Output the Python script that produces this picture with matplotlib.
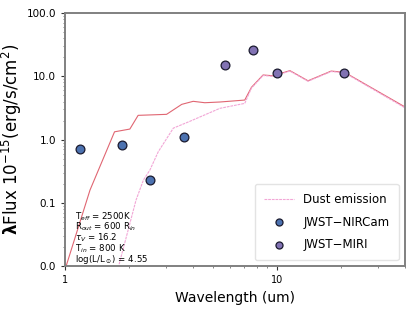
import matplotlib
matplotlib.use("Agg")
import matplotlib.pyplot as plt
from matplotlib.ticker import FixedLocator, FixedFormatter, LogLocator, NullFormatter

# Model curves
model_wave = [1.0, 1.31, 1.71, 2.02, 2.21, 3.01, 3.55, 4.02, 4.56, 5.37, 7.04, 7.57, 8.59, 9.58, 11.5, 14.0, 18.0, 20.8, 40.0]
model_flux = [0.009, 0.16, 1.33, 1.47, 2.42, 2.51, 3.61, 4.03, 3.83, 3.93, 4.22, 6.7, 10.5, 10.2, 12.3, 8.5, 12.1, 11.6, 3.31]

dust_wave = [1.78, 2.16, 2.34, 2.51, 2.75, 3.24, 3.88, 5.37, 7.04, 7.57, 8.59, 9.58, 11.5, 14.0, 18.0, 20.8, 40.0]
dust_flux = [0.0095, 0.111, 0.23, 0.33, 0.644, 1.52, 1.95, 3.12, 3.74, 6.5, 10.3, 10.0, 12.1, 8.35, 11.9, 11.4, 3.2]

# Photometry
nircam_wave = [1.17, 1.86, 2.51, 3.64]
nircam_flux = [0.71, 0.82, 0.227, 1.09]
miri_wave = [5.65, 7.68, 10.0, 20.8]
miri_flux = [15.2, 25.7, 11.3, 11.3]

ytick_vals = [0.01, 0.1, 1.0, 10.0, 100.0]
ytick_labels = ["0.0", "0.1", "1.0", "10.0", "100.0"]
xtick_vals = [1, 10]
xtick_labels = ["1", "10"]

info_lines = ["T$_{eff}$ = 2500K", "R$_{out}$ = 600 R$_{in}$", "$\\tau_V$ = 16.2",
              "T$_{in}$ = 800 K", "log(L/L$_\\odot$) = 4.55"]

fig = plt.figure(figsize=(4.15, 3.11), dpi=100)
ax = fig.add_axes([0.157, 0.1437, 0.818, 0.8145])

ax.plot(model_wave, model_flux, color="#e06672", lw=0.8, zorder=2)
ax.plot(dust_wave, dust_flux, color="#f2a6d6", lw=0.8, ls=(0, (2.5, 0.8)), zorder=2, label="Dust emission")
ax.scatter(nircam_wave, nircam_flux, s=40, color="#4c72b0", edgecolor="#1a1a2e", linewidth=0.9, zorder=3, label="JWST\u2212NIRCam")
ax.scatter(miri_wave, miri_flux, s=40, color="#8172b3", edgecolor="#1a1a2e", linewidth=0.9, zorder=3, label="JWST\u2212MIRI")

ax.set_xscale("log")
ax.set_yscale("log")
ax.set_xlim(1, 40)
ax.set_ylim(0.01, 100)

ax.yaxis.set_major_locator(FixedLocator(ytick_vals))
ax.yaxis.set_major_formatter(FixedFormatter(ytick_labels))
ax.yaxis.set_minor_locator(LogLocator(base=10, subs=range(2, 10)))
ax.yaxis.set_minor_formatter(NullFormatter())
ax.xaxis.set_major_locator(FixedLocator(xtick_vals))
ax.xaxis.set_major_formatter(FixedFormatter(xtick_labels))
ax.xaxis.set_minor_locator(LogLocator(base=10, subs=range(2, 10)))
ax.xaxis.set_minor_formatter(NullFormatter())

ax.tick_params(axis="y", which="major", labelsize=7.5, length=3, width=0.8, color="#333333")
ax.tick_params(axis="x", which="major", labelsize=7, length=3, width=0.8, color="#333333")
ax.tick_params(which="minor", length=1.5, width=0.5, color="#555555")

for sp in ax.spines.values():
    sp.set_color("#808080")
    sp.set_linewidth(1.4)

ax.set_xlabel("Wavelength (um)", fontsize=10)
ax.set_ylabel(r"$\mathbf{\lambda}$Flux $10^{-15}$(erg/s/cm$^2$)", fontsize=12, labelpad=2)

ax.text(0.029, 0.222, "\n".join(info_lines), transform=ax.transAxes, fontsize=6.2,
        va="top", ha="left", linespacing=0.8)

leg = ax.legend(loc="lower right", fontsize=8.5, frameon=True, borderpad=0.8, labelspacing=0.8,
                handlelength=2.5, fancybox=True, markerscale=0.8)
leg.get_frame().set_edgecolor("#dddddd")

fig.savefig("out.png", dpi=100)
